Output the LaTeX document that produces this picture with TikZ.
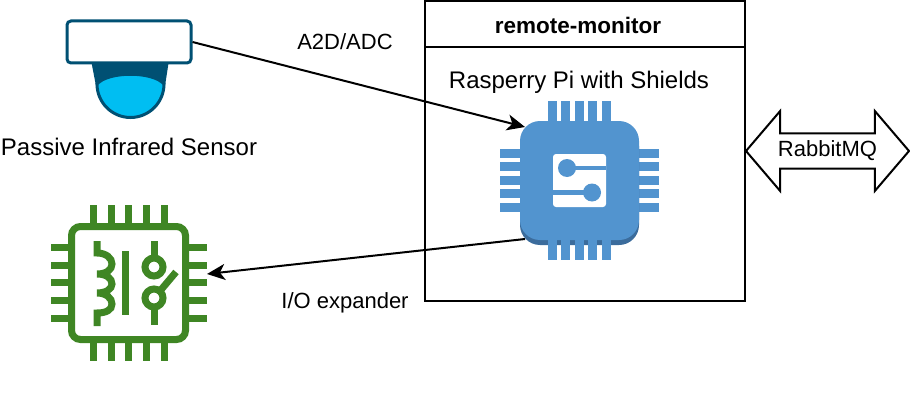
\documentclass[tikz,border=0pt]{standalone}
\usepackage{fontspec}
\setmainfont{Liberation Sans}
\usetikzlibrary{shapes.arrows,arrows.meta}
\definecolor{piblue}{HTML}{5294CF}
\definecolor{pidark}{HTML}{3B6C9C}
\definecolor{relaygreen}{HTML}{3F8624}
\definecolor{sensorblue}{HTML}{005073}
\definecolor{domeblue}{HTML}{00BEF2}
\tikzset{
  label/.style={font=\fontsize{22}{26}\selectfont, inner sep=0pt},
  biglabel/.style={font=\fontsize{24}{28}\selectfont, inner sep=0pt},
  link/.style={-{Stealth[length=18pt,width=16pt,inset=5pt]}, line width=2pt},
  pipin/.style={fill=piblue, draw=none},
  relaypin/.style={line width=7pt, draw=relaygreen},
  relayline/.style={line width=7pt, draw=relaygreen},
}
\begin{document}
\begin{tikzpicture}[x=1pt, y=-1pt]
  \useasboundingbox (0,0) rectangle (910,404);

  % Sensor
  \fill[sensorblue] (91,60) -- (169,60) -- (165,86) -- (96,86) --cycle;
  \draw[fill=domeblue, draw=sensorblue, line width=3pt] (97,84) .. controls (108,71) and (153,71) .. (164,84) arc (0:180:33.5) --cycle;
  \node[draw=sensorblue, fill=white, line width=3pt, rounded corners=4pt, minimum width=124pt, minimum height=42pt, inner sep=0pt] (sensor) at (129,42) {};
  \node[biglabel] (sensorlabel) at (129,147) {Passive Infrared Sensor};

  % Remote monitor
  \node[draw, line width=2pt, minimum width=320pt, minimum height=300pt, inner sep=0pt] (monitor) at (585,151) {};
  \draw[line width=2pt] (425,47) -- (745,47);
  \node[font=\fontsize{22.5}{26}\selectfont\bfseries, inner sep=0pt] (monitortitle) at (578,25) {remote-monitor};
  \node[biglabel] (pilabel) at (579,82) {Rasperry Pi with Shields};

  % Pi chip
  \foreach \i in {0,...,4} {
    \fill[pipin] ({548+13.4*\i},101) rectangle ++(9,159);
    \fill[pipin] (500,{149+13.4*\i}) rectangle ++(159,9);
  }
  \fill[pidark, rounded corners=20pt] (520,126) rectangle (639,245);
  \foreach \i in {0,...,4} {
    \fill[pipin] ({548+13.4*\i},240) rectangle ++(9,20);
  }
  \node[fill=piblue, rounded corners=20pt, minimum width=119pt, minimum height=119pt, inner sep=0pt] (pi) at (579.5,180.5) {};
  \fill[white, rounded corners=3pt] (553,154) rectangle (606,207);
  \fill[piblue] (567,168) circle [radius=9];
  \fill[piblue] (592,192.5) circle [radius=9];
  \fill[piblue] (567,165.7) rectangle (606,170.3);
  \fill[piblue] (553,190.2) rectangle (592,194.8);

  % Relay chip
  \foreach \i in {0,...,4} {
    \draw[relaypin] ({93.5+17.7*\i},205) -- ++(0,20);
    \draw[relaypin] ({93.5+17.7*\i},341) -- ++(0,20);
    \draw[relaypin] (51,{247.5+17.7*\i}) -- ++(20,0);
    \draw[relaypin] (187,{247.5+17.7*\i}) -- ++(20,0);
  }
  \node[draw=relaygreen, line width=7pt, fill=white, rounded corners=9pt, minimum width=114pt, minimum height=113pt, inner sep=0pt] (relay) at (128.5,283) {};
  \draw[relayline] (97,241) -- (97,253) .. controls (106,253) and (112,258) .. (112,264) .. controls (112,270) and (106,274) .. (97,274) .. controls (106,274) and (112,278) .. (112,284) .. controls (112,289) and (106,293) .. (97,293) .. controls (106,293) and (112,298) .. (112,304) .. controls (112,310) and (106,313) .. (97,313) -- (97,326);
  \draw[relayline] (125.5,251) -- (125.5,315);
  \draw[relayline] (154,241) -- (154,258);
  \draw[relayline] (154,267) circle [radius=9];
  \draw[relayline] (154,298) circle [radius=9];
  \draw[relayline] (154,307) -- (154,325);
  \draw[relayline] (160,291) -- (176,272);

  % Conexiones
  \coordinate (piin) at (525,127);
  \coordinate (piout) at (525,239);
  \coordinate (relayin) at (207,274);
  \draw[link] (sensor.east) -- (piin);
  \draw[link] (piout) -- (relayin);
  \node[label] (adclabel) at (345,42) {A2D/ADC};
  \node[label] (iolabel) at (345,303) {I/O expander};

  % RabbitMQ
  \node[draw, line width=2pt, fill=white, double arrow, double arrow tip angle=99, double arrow head extend=14pt, minimum height=163pt, minimum width=80pt, inner sep=0pt, label] (rabbit) at (827.5,151) {RabbitMQ};
\end{tikzpicture}
\end{document}
